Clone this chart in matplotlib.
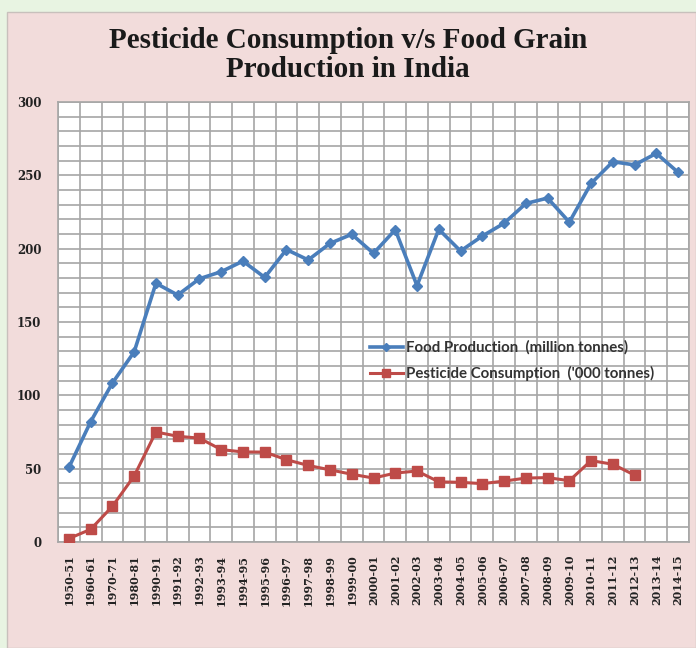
import matplotlib
matplotlib.use("Agg")
import matplotlib.pyplot as plt
from matplotlib.patches import Rectangle
from matplotlib.ticker import MultipleLocator, FixedLocator

years = ["1950-51", "1960-61", "1970-71", "1980-81", "1990-91", "1991-92", "1992-93",
         "1993-94", "1994-95", "1995-96", "1996-97", "1997-98", "1998-99", "1999-00",
         "2000-01", "2001-02", "2002-03", "2003-04", "2004-05", "2005-06", "2006-07",
         "2007-08", "2008-09", "2009-10", "2010-11", "2011-12", "2012-13", "2013-14",
         "2014-15"]
food_production = [50.8, 82.0, 108.4, 129.6, 176.4, 168.4, 179.5, 184.3, 191.5, 180.4,
                   199.4, 192.3, 203.6, 209.8, 196.8, 212.9, 174.8, 213.2, 198.4, 208.6,
                   217.3, 230.8, 234.5, 218.1, 244.5, 259.3, 257.1, 265.0, 252.0]
pesticide = [2.35, 8.62, 24.32, 45.0, 75.0, 72.1, 70.8, 63.0, 61.4, 61.3, 56.1, 52.2,
             49.2, 46.2, 43.6, 47.0, 48.4, 41.0, 40.7, 39.8, 41.5, 43.6, 43.9, 41.8,
             55.5, 53.0, 45.6]

W, H = 696, 648
fig = plt.figure(figsize=(W / 100, H / 100), dpi=100)
fig.patch.set_facecolor("#e8f4e2")
fig.add_artist(Rectangle((7 / W, 0), 1 - 7 / W, 1 - 12 / H, transform=fig.transFigure,
                         facecolor="#f2dcdb", edgecolor="#c8c0bc", linewidth=1.0, zorder=0))

ax = fig.add_axes([58 / W, 1 - 542 / H, (689 - 58) / W, (542 - 102) / H])
ax.set_facecolor("white")

x = list(range(len(years)))
ax.plot(x, food_production, color="#4a7ebb", linewidth=2.6, marker="D", markersize=5.5,
        label="Food Production  (million tonnes)", zorder=3)
ax.plot(x[:len(pesticide)], pesticide, color="#be4b48", linewidth=2.2, marker="s",
        markersize=7, label="Pesticide Consumption  ('000 tonnes)", zorder=3)

ax.set_xlim(-0.5, len(years) - 0.5)
ax.set_ylim(0, 300)
ax.xaxis.set_major_locator(FixedLocator(x))
ax.xaxis.set_minor_locator(FixedLocator([i + 0.5 for i in range(-1, len(years))]))
ax.set_xticks(x)
ax.set_xticklabels(years, rotation=90, fontsize=8, fontweight="bold",
                   family="DejaVu Serif", color="#222222")
ax.yaxis.set_major_locator(MultipleLocator(50))
ax.yaxis.set_minor_locator(MultipleLocator(10))
for lab in ax.get_yticklabels():
    lab.set_fontsize(8.5)
    lab.set_fontweight("bold")
    lab.set_family("DejaVu Serif")
    lab.set_color("#222222")

ax.grid(which="minor", axis="x", color="#a6a6a6", linewidth=1.2)
ax.grid(which="both", axis="y", color="#a6a6a6", linewidth=1.2)
ax.grid(which="major", axis="x", visible=False)
ax.tick_params(axis="x", which="major", length=0, pad=9)
ax.tick_params(axis="x", which="minor", length=0)
ax.tick_params(axis="y", which="both", length=0, pad=12)
ax.set_axisbelow(True)
for s in ax.spines.values():
    s.set_color("#a6a6a6")
    s.set_linewidth(1.2)

fig.text(0.5, 1 - 55 / H, "Pesticide Consumption v/s Food Grain\nProduction in India",
         ha="center", va="center", fontsize=21, fontweight="bold",
         family="Liberation Serif", color="#1a1a1a", linespacing=1.12)

leg = ax.legend(loc="upper left", bbox_to_anchor=(356 / W, 1 - 327 / H),
                bbox_transform=fig.transFigure, frameon=False,
                prop={"family": "Lato", "weight": "bold", "size": 10.8},
                labelspacing=0.75, handlelength=2.2, handletextpad=0.2, markerscale=0.8)
for t in leg.get_texts():
    t.set_color("#333333")

fig.savefig("out.png", dpi=100, facecolor=fig.get_facecolor())
